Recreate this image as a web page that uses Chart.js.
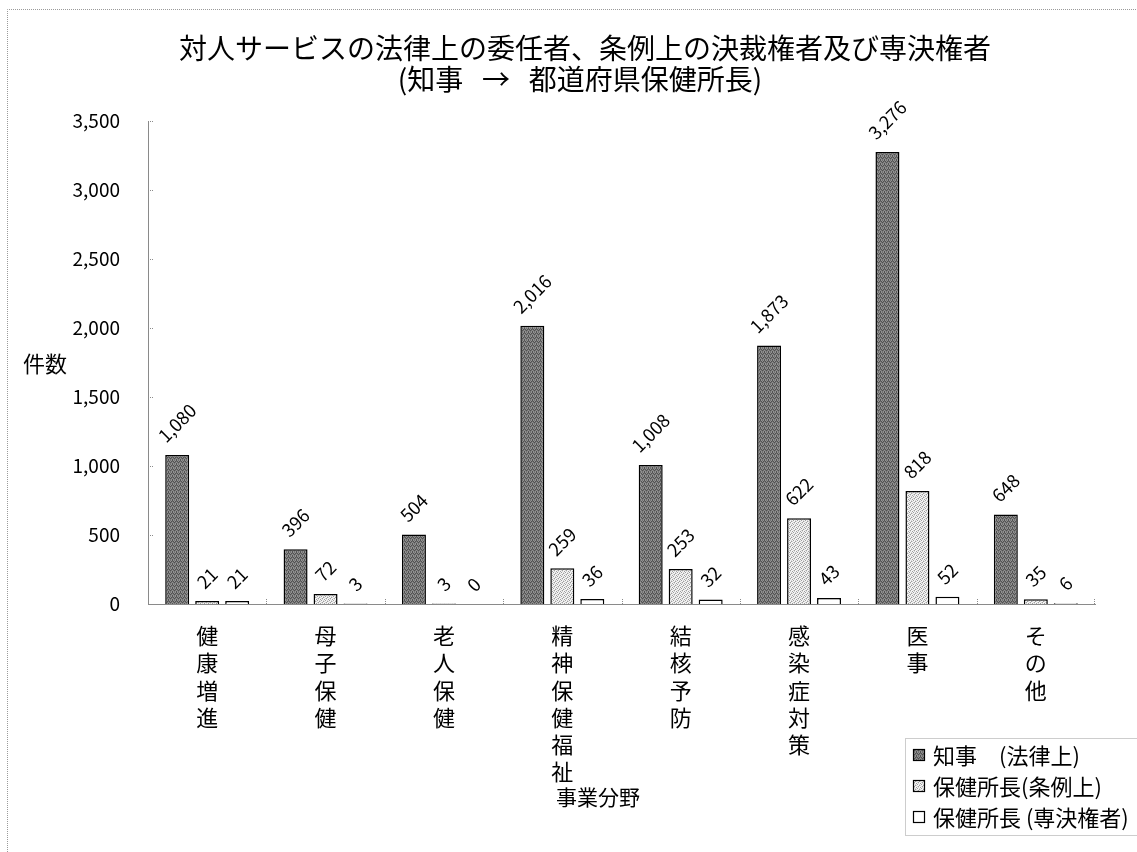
<!DOCTYPE html>
<html lang="ja">
<head>
<meta charset="utf-8">
<title>対人サービスの法律上の委任者、条例上の決裁権者及び専決権者</title>
<script src="https://cdn.jsdelivr.net/npm/chart.js@4.4.1/dist/chart.umd.min.js"></script>
<style>
  html, body { margin: 0; padding: 0; background: #fff; }
  #wrap { position: relative; width: 1137px; height: 852px; }
</style>
</head>
<body>
<div id="wrap"><canvas id="chart" width="1137" height="852"></canvas></div>
<script>
// 事業分野（横軸のカテゴリ）
const categories = ['健康増進', '母子保健', '老人保健', '精神保健福祉', '結核予防', '感染症対策', '医事', 'その他'];

// 件数
const governorLaw = [1080, 396, 504, 2016, 1008, 1873, 3276, 648];      // 知事（法律上）
const directorOrdinance = [21, 72, 3, 259, 253, 622, 818, 35];          // 保健所長（条例上）
const directorDelegated = [21, 3, 0, 36, 32, 43, 52, 6];                 // 保健所長（専決権者）

const seriesNames = ['知事　(法律上)', '保健所長(条例上)', '保健所長 (専決権者)'];

// 縦軸目盛
const yMin = 0;
const yMax = 3500;
const yStep = 500;

const titleLines = ['対人サービスの法律上の委任者、条例上の決裁権者及び専決権者', '(知事   →   都道府県保健所長)'];
const yAxisTitle = '件数';
const xAxisTitle = '事業分野';

const JP = "'Noto Sans CJK JP', 'Noto Sans', sans-serif";

// 網掛けの塗りパターン
function makePattern(rows) {
  const n = rows.length;
  const c = document.createElement('canvas');
  c.width = n; c.height = n;
  const g = c.getContext('2d');
  rows.forEach((row, y) => row.forEach((col, x) => { g.fillStyle = col; g.fillRect(x, y, 1, 1); }));
  return g.createPattern(c, 'repeat');
}
const D1 = '#525252', D2 = '#929292', D3 = '#717171';
const darkFill = makePattern([
  [D1, D2, D3, D2],
  [D3, D1, D2, D1],
  [D2, D3, D1, D3],
  [D1, D2, D3, D2]
]);
const W = '#f4f4f4', G = '#9e9e9e', L = '#d6d6d6';
const lightFill = makePattern([
  [W, G, W, L],
  [L, W, W, G],
  [W, L, G, W],
  [G, W, L, W]
]);
const fills = [darkFill, lightFill, '#ffffff'];

// 枠・見出し・軸名・目盛り線・凡例を描くプラグイン
const decorations = {
  id: 'decorations',
  beforeDraw(chart) {
    const ctx = chart.ctx;
    ctx.save();
    ctx.fillStyle = '#fff';
    ctx.fillRect(0, 0, chart.width, chart.height);
    // 外枠（左・上）
    ctx.strokeStyle = '#9a9a9a';
    ctx.lineWidth = 1;
    ctx.setLineDash([1, 1]);
    ctx.beginPath();
    ctx.moveTo(7.5, chart.height);
    ctx.lineTo(7.5, 9.5);
    ctx.lineTo(chart.width, 9.5);
    ctx.stroke();
    ctx.restore();
  },
  afterDraw(chart) {
    const ctx = chart.ctx;
    const { x, y } = chart.scales;
    const area = chart.chartArea;
    ctx.save();
    ctx.fillStyle = '#000';
    ctx.textAlign = 'center';
    ctx.textBaseline = 'middle';
    // タイトル
    ctx.font = '28px ' + JP;
    ctx.fillText(titleLines[0], 585, 48);
    ctx.fillText(titleLines[1], 580, 79);
    // 軸名
    ctx.font = '22px ' + JP;
    ctx.fillText(yAxisTitle, 45, 364);
    ctx.font = '21px ' + JP;
    ctx.fillText(xAxisTitle, 598, 797);

    // 目盛り線（内向き）
    ctx.strokeStyle = '#8a8a8a';
    ctx.lineWidth = 1;
    ctx.setLineDash([1, 1]);
    y.ticks.forEach((t) => {
      const py = Math.round(y.getPixelForValue(t.value)) + 0.5;
      ctx.beginPath();
      ctx.moveTo(area.left, py);
      ctx.lineTo(area.left + 5, py);
      ctx.stroke();
    });
    for (let i = 1; i <= categories.length; i++) {
      const px = Math.round((x.getPixelForValue(i - 1) + x.getPixelForValue(i)) / 2) + 0.5;
      const bx = i === categories.length ? Math.round(area.right) - 0.5 : px;
      ctx.beginPath();
      ctx.moveTo(bx, area.bottom);
      ctx.lineTo(bx, area.bottom - 6);
      ctx.stroke();
    }

    // 凡例
    const lx = 905, ly = 738, lw = 240, lh = 97;
    ctx.strokeStyle = '#9a9a9a';
    ctx.strokeRect(lx + 0.5, ly + 0.5, lw, lh);
    ctx.setLineDash([]);
    ctx.textAlign = 'left';
    ctx.font = '22px ' + JP;
    chart.data.datasets.forEach((ds, i) => {
      const cy = 755 + i * 31;
      ctx.fillStyle = fills[i];
      ctx.fillRect(913, cy - 6, 12, 12);
      ctx.strokeStyle = '#000';
      ctx.lineWidth = 1.2;
      ctx.strokeRect(913.5, cy - 5.5, 11, 11);
      ctx.fillStyle = '#000';
      ctx.fillText(ds.label, 933, cy + 1);
    });
    ctx.restore();
  },
  afterDatasetsDraw(chart) {
    // 値ラベル（45度回転）
    const ctx = chart.ctx;
    ctx.save();
    ctx.fillStyle = '#000';
    ctx.font = '18px ' + JP;
    ctx.textAlign = 'center';
    ctx.textBaseline = 'middle';
    chart.data.datasets.forEach((ds, di) => {
      const meta = chart.getDatasetMeta(di);
      meta.data.forEach((bar, i) => {
        const text = ds.data[i].toLocaleString('en-US');
        const w = ctx.measureText(text).width;
        const half = (w + 14) * 0.7071 / 2;
        const cx = bar.x;
        const cy = bar.y - 11 - half;
        ctx.save();
        ctx.translate(cx, cy);
        ctx.rotate(-Math.PI / 4);
        ctx.fillText(text, 0, 0);
        ctx.restore();
      });
    });
    ctx.restore();
  }
};

const seriesData = [governorLaw, directorOrdinance, directorDelegated];

new Chart(document.getElementById('chart'), {
  type: 'bar',
  data: {
    labels: categories.map((c) => Array.from(c)),
    datasets: seriesData.map((d, i) => ({
      label: seriesNames[i],
      data: d,
      backgroundColor: fills[i],
      borderColor: '#000',
      borderWidth: 1.5,
      categoryPercentage: 0.76,
      barPercentage: 0.8
    }))
  },
  options: {
    responsive: false,
    devicePixelRatio: 1,
    animation: false,
    layout: { padding: { left: 0, right: 42, top: 121, bottom: 0 } },
    plugins: {
      legend: { display: false },
      title: { display: false },
      tooltip: { enabled: false }
    },
    scales: {
      x: {
        grid: { display: false, drawTicks: false },
        border: { display: true, color: '#8a8a8a', dash: [1, 1], width: 1 },
        ticks: {
          color: '#000',
          padding: 18,
          maxRotation: 0,
          autoSkip: false,
          font: { family: JP, size: 22, lineHeight: 1.24 }
        },
        afterFit(s) { s.height = 248; }
      },
      y: {
        min: yMin,
        max: yMax,
        grid: { display: false, drawTicks: false },
        border: { display: true, color: '#8a8a8a', dash: [1, 1], width: 1 },
        ticks: {
          stepSize: yStep,
          color: '#000',
          padding: 28,
          font: { family: JP, size: 19 },
          callback: (v) => v.toLocaleString('en-US')
        },
        afterFit(s) { s.width = 148; }
      }
    }
  },
  plugins: [decorations]
});
</script>
</body>
</html>
